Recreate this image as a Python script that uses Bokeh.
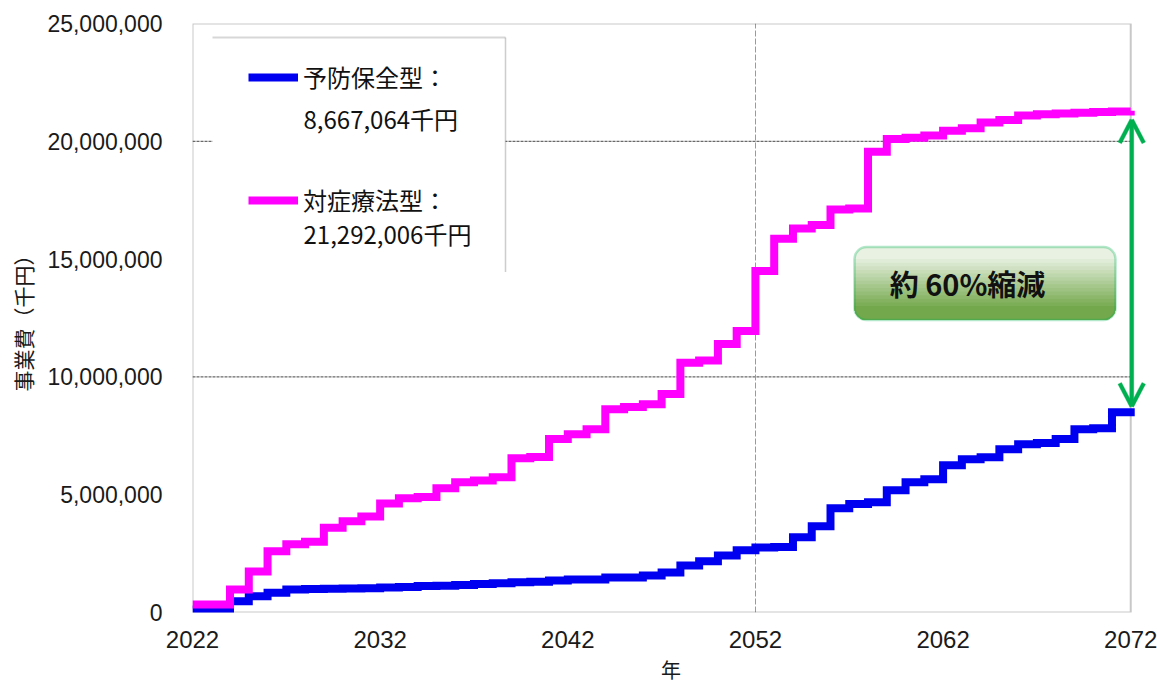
from bokeh.plotting import figure
from bokeh.models import (Range1d, FixedTicker, NumeralTickFormatter, Legend, LegendItem,
                          Label, BoxAnnotation, PolyAnnotation)
from bokeh.embed import file_html
from bokeh.resources import INLINE
import math

# ---------------- data (千円) ----------------
years = list(range(2022, 2073))
preventive = [130000, 130000, 480000, 690000, 840000, 980000, 1000000, 1010000, 1020000, 1030000,
              1060000, 1080000, 1120000, 1140000, 1170000, 1210000, 1240000, 1280000, 1310000, 1360000,
              1400000, 1400000, 1490000, 1490000, 1570000, 1700000, 2000000, 2170000, 2420000, 2640000,
              2760000, 2780000, 3190000, 3660000, 4420000, 4600000, 4680000, 5190000, 5530000, 5660000,
              6250000, 6500000, 6590000, 6930000, 7140000, 7190000, 7360000, 7780000, 7820000, 8500000,
              8667064]
symptomatic = [340000, 340000, 980000, 1740000, 2600000, 2900000, 3000000, 3600000, 3870000, 4080000,
               4630000, 4850000, 4900000, 5270000, 5530000, 5600000, 5740000, 6550000, 6600000, 7360000,
               7570000, 7780000, 8630000, 8720000, 8840000, 9270000, 10600000, 10700000, 11400000, 11950000,
               14500000, 15860000, 16300000, 16450000, 17100000, 17150000, 19560000, 20100000, 20150000, 20250000,
               20450000, 20550000, 20800000, 20900000, 21100000, 21150000, 21180000, 21210000, 21240000, 21270000,
               21292006]
series_names = ["予防保全型：", "対症療法型："]
x_ticks = [2022, 2032, 2042, 2052, 2062, 2072]
y_ticks = [0, 5000000, 10000000, 15000000, 20000000, 25000000]
grid_y = [10000000, 20000000]
grid_x = [2052]
note_text = "約 60%縮減"

JP = "Noto Sans CJK JP"
NUM = "Liberation Sans"
GREEN = "#00B050"

# canvas / frame geometry (pixels)
W, H = 1157, 686
FL, FT, FH = 192, 23, 590
FR = 8                      # right border; frame extends a little past the last year for the arrow
FW = W - FL - FR
x0, x1 = years[0], years[-1]
x_end = x1 + 1
y_top = y_ticks[-1]

p = figure(width=W, height=H, output_backend="svg", toolbar_location=None,
           x_range=Range1d(x0, x_end), y_range=Range1d(0, y_top),
           min_border_left=FL, min_border_right=FR, min_border_top=FT,
           min_border_bottom=H - FT - FH)
p.background_fill_color = "white"
p.border_fill_color = "white"
p.outline_line_color = None

# axes
p.xaxis.ticker = FixedTicker(ticks=x_ticks)
p.yaxis.ticker = FixedTicker(ticks=y_ticks)
p.yaxis.formatter = NumeralTickFormatter(format="0,0")
for ax in (p.xaxis[0], p.yaxis[0]):
    ax.major_tick_line_color = None
    ax.minor_tick_line_color = None
    ax.axis_line_color = None
    ax.major_label_text_font = NUM
    ax.major_label_text_color = "#1a1a1a"
    ax.axis_label_text_font = JP
    ax.axis_label_text_font_style = "normal"
    ax.axis_label_text_color = "#1a1a1a"
p.xaxis.major_label_text_font_size = "24px"
p.yaxis.major_label_text_font_size = "23px"
p.xaxis.major_label_standoff = 12
p.yaxis.major_label_standoff = 24
p.xaxis.axis_label = "年"
p.xaxis.axis_label_text_font_size = "20px"
p.xaxis.axis_label_standoff = 4
p.yaxis.axis_label = "事業費（千円）"
p.yaxis.axis_label_text_font_size = "21px"
p.yaxis.axis_label_standoff = 6

# grids
p.xgrid.ticker = FixedTicker(ticks=grid_x)
p.xgrid.grid_line_color = "#9a9a9a"
p.xgrid.grid_line_dash = "6 2"
p.xgrid.grid_line_width = 1
p.ygrid.grid_line_color = None
p.segment(x0=[x0] * len(grid_y), x1=[x1] * len(grid_y), y0=grid_y, y1=grid_y,
          line_color="#444444", line_dash="3 1", line_width=1, level="underlay")

# pixel <-> data helpers for annotations
px_per_year = FW / (x_end - x0)
px_val = y_top / FH
def dx(px):
    return x0 + (px - FL) / px_per_year
def dy(py):
    return (FT + FH - py) * px_val
def py_of(v):
    return FT + FH - v / px_val

# plot-area border (ends at the last year)
p.add_layout(BoxAnnotation(left=x0, right=x1, bottom=0, top=y_top, fill_alpha=0,
                           line_color="#4a4a4a", line_width=2, level="underlay"))

# lines
r_blue = p.step(years, preventive, mode="after", line_color="#0000F0", line_width=8, line_join="miter")
r_mag = p.step(years, symptomatic, mode="after", line_color="#FF00FF", line_width=8, line_join="miter")

# legend box (white, top and right edges only)
lx0, lx1, ly0, ly1 = dx(212), dx(505), dy(37), dy(272)
p.add_layout(BoxAnnotation(left=lx0, right=lx1, top=ly0, bottom=ly1, fill_color="white",
                           fill_alpha=1.0, line_alpha=0))
p.add_layout(BoxAnnotation(left=lx0, right=lx1, top=ly0, bottom=ly0, fill_alpha=0,
                           line_color="#7a7a7a", line_width=2))
p.add_layout(BoxAnnotation(left=lx1, right=lx1, top=ly0, bottom=ly1, fill_alpha=0,
                           line_color="#5a5a5a", line_width=1.5))

# legend items (no border -> no padding): glyph starts at x=248, item centres at y=85 / 203
legend = Legend(items=[LegendItem(label=series_names[0], renderers=[r_blue]),
                       LegendItem(label=series_names[1], renderers=[r_mag])],
                location=(248 - FL, FH - (218 - FT)), orientation="vertical",
                label_text_font=JP, label_text_font_size="24px", label_text_color="#111111",
                glyph_width=50, glyph_height=30, label_height=30, label_width=172,
                label_standoff=5, spacing=88, padding=0, margin=0,
                border_line_color=None, background_fill_alpha=0.0)
p.add_layout(legend, "center")

# second lines of the legend
for name_val, ypix in ((preventive[-1], 118), (symptomatic[-1], 233)):
    p.add_layout(Label(x=dx(303), y=dy(ypix), level="overlay",
                       text=f"{name_val:,}千円", text_font=JP, text_font_size="24px",
                       text_color="#111111", text_align="left", text_baseline="middle"))

# gradient rounded note box
bx0, bx1 = dx(854), dx(1115)
by_top, by_bot = dy(247), dy(320)
box_px = 320 - 247
c0 = (0xE8, 0xF1, 0xE2)
c1 = (0x74, 0xA8, 0x4C)
p.add_layout(BoxAnnotation(left=bx0, right=bx1, top=by_top, bottom=by_bot,
                           fill_color="#%02x%02x%02x" % c0, fill_alpha=1.0, line_alpha=0,
                           border_radius=12))
nb = 14
for k in range(1, nb + 1):
    off = 12 + (box_px - 12 - 14) * (k - 1) / (nb - 1)
    t = k / nb
    col = tuple(int(round(c0[i] + (c1[i] - c0[i]) * t)) for i in range(3))
    p.add_layout(BoxAnnotation(left=bx0, right=bx1, top=by_top - off * px_val, bottom=by_bot,
                               fill_color="#%02x%02x%02x" % col, fill_alpha=1.0, line_alpha=0,
                               border_radius=(0, 0, 12, 12)))
p.add_layout(BoxAnnotation(left=bx0, right=bx1, top=by_top, bottom=by_bot,
                           fill_alpha=0, line_color=GREEN, line_width=2.5, border_radius=12))
p.add_layout(Label(x=dx(967), y=dy(283), text=note_text,
                   text_font=JP, text_font_size="29px", text_font_style="bold",
                   text_color="#111111", text_align="center", text_baseline="middle"))

# double arrow between the two end values (drawn as filled polygons)
ax_px = FL + (x1 - x0) * px_per_year + 1
top_tip = py_of(symptomatic[-1]) + 9
bot_tip = py_of(preventive[-1]) - 2
def seg(xa, ya, xb, yb, w=4.0):
    L = math.hypot(xb - xa, yb - ya)
    nx, ny = -(yb - ya) / L * w / 2, (xb - xa) / L * w / 2
    pts = [(xa + nx, ya + ny), (xb + nx, yb + ny), (xb - nx, yb - ny), (xa - nx, ya - ny)]
    return [dx(a) for a, b in pts], [dy(b) for a, b in pts]
segs = [seg(ax_px, top_tip + 2, ax_px, bot_tip - 2),
        seg(ax_px, top_tip, ax_px - 12, top_tip + 23), seg(ax_px, top_tip, ax_px + 12, top_tip + 23),
        seg(ax_px, bot_tip, ax_px - 12, bot_tip - 23), seg(ax_px, bot_tip, ax_px + 12, bot_tip - 23)]
for xs, ys in segs:
    p.add_layout(PolyAnnotation(xs=xs, ys=ys, fill_color=GREEN, fill_alpha=1.0,
                                line_color=GREEN, line_width=1))

open("out.html", "w").write(file_html(p, INLINE))
